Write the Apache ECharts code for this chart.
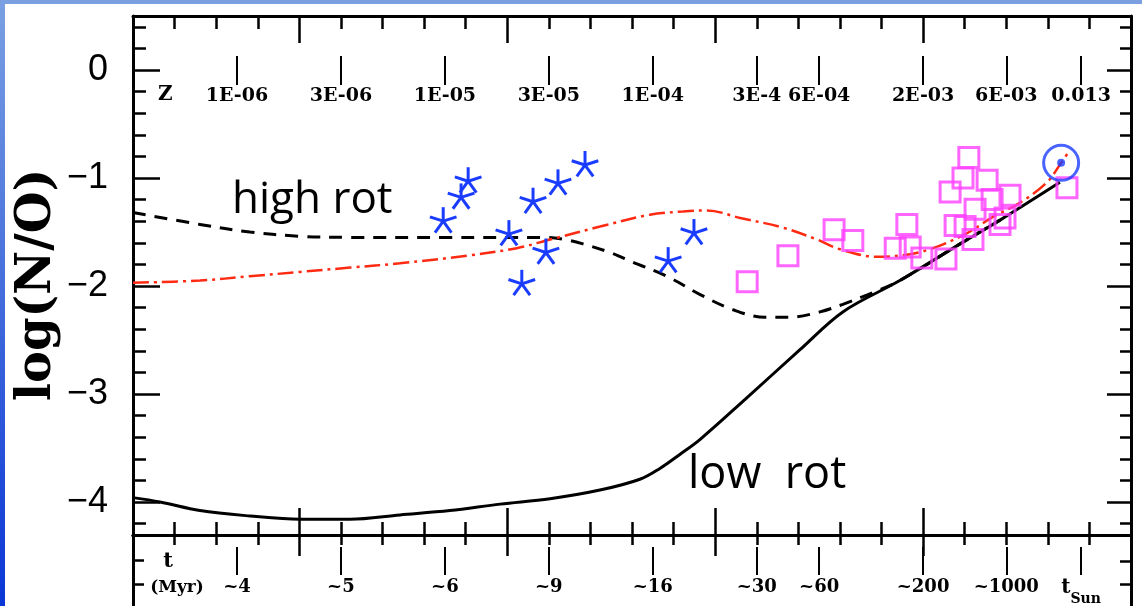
<!DOCTYPE html>
<html>
<head>
<meta charset="utf-8">
<script src="https://cdn.jsdelivr.net/npm/echarts@6/dist/echarts.min.js"></script>
<style>
html,body{margin:0;padding:0;background:#fff;}
#chart{width:1142px;height:606px;}
</style>
</head>
<body>
<div id="chart"></div>
<script>
// ---- data (x in minor-tick units of the abundance axis, y = log(N/O)) ----
const lowRot = [[0,-3.96],[0.65,-4.00],[1.61,-4.08],[2.81,-4.13],[4.02,-4.16],[5.22,-4.16],[6.42,-4.12],[7.62,-4.08],[8.83,-4.02],[10.03,-3.97],[11.23,-3.89],[12.19,-3.79],[12.67,-3.69],[13.15,-3.56],[13.64,-3.42],[14.72,-3.05],[16.04,-2.59],[17.07,-2.24],[18.44,-1.95],[19.89,-1.61],[20.85,-1.39],[22.29,-1.04]];
const highRot = [[0,-1.32],[1.61,-1.43],[2.81,-1.50],[4.02,-1.54],[5.22,-1.55],[7.62,-1.55],[9.91,-1.55],[10.39,-1.57],[10.82,-1.61],[11.47,-1.69],[12.02,-1.78],[12.84,-1.91],[13.64,-2.08],[14.43,-2.22],[15.20,-2.29],[15.80,-2.29],[16.52,-2.24],[17.07,-2.17],[17.80,-2.06],[18.44,-1.95],[19.89,-1.61],[20.85,-1.39]];
const redModel = [[0,-1.97],[1.61,-1.95],[2.81,-1.91],[4.02,-1.87],[5.22,-1.83],[6.42,-1.79],[8.03,-1.72],[9.23,-1.65],[10.03,-1.57],[11.23,-1.45],[12.43,-1.34],[13.23,-1.31],[13.80,-1.30],[14.60,-1.37],[15.63,-1.46],[16.45,-1.57],[17.00,-1.66],[17.89,-1.73],[18.61,-1.71],[19.24,-1.65],[20.06,-1.51],[20.68,-1.36],[21.33,-1.23],[21.98,-1.04],[22.32,-0.86],[22.53,-0.74]];
const stars = [[7.46,-1.40],[7.89,-1.18],[8.06,-1.03],[9.04,-1.52],[9.35,-1.98],[9.62,-1.22],[9.93,-1.69],[10.22,-1.05],[10.87,-0.88],[12.87,-1.77],[13.49,-1.51]];
const squares = [[14.77,-1.96],[15.75,-1.72],[16.86,-1.48],[17.31,-1.58],[18.33,-1.65],[18.61,-1.43],[18.69,-1.64],[18.97,-1.74],[19.55,-1.75],[19.65,-1.13],[19.77,-1.44],[20.01,-1.45],[19.96,-1.00],[20.10,-0.81],[20.54,-1.02],[20.20,-1.57],[20.25,-1.29],[20.66,-1.20],[21.09,-1.16],[20.85,-1.43],[20.97,-1.37],[22.46,-1.09]];
const sun = [[22.32,-0.86]];
const zTickPos = [2.5,5,7.5,10,12.5,15,16.5,19,21,22.8];
const zLabels = ['1E-06','3E-06','1E-05','3E-05','1E-04','3E-4','6E-04','2E-03','6E-03','0.013'];
const tLabels = ['~4','~5','~6','~9','~16','~30','~60','~200','~1000','tSun'];
const xMajor = [4,9,14,19];
const yMajor = [0,-1,-2,-3,-4];

// ---- tick helpers ----
const xMinor = [];
for (let i = 1; i < 24; i++) if (xMajor.indexOf(i) < 0) xMinor.push(i);
const yMinor = [];
for (let i = 2; i >= -21; i--) { if (i % 5 !== 0) yMinor.push(i / 5); }

const XMIN = 0, XMAX = 24, YMIN = -4.306, YMAX = 0.5;
const black = '#000';
const lineSty = {show:true, onZero:false, lineStyle:{color:black, width:3}};
const noLine = {show:false, onZero:false};
const noLabel = {show:false};
const noSplit = {show:false};
function ticks(vals, len, inside, w) {
  return {show:true, inside:inside, length:len, customValues:vals, lineStyle:{color:black, width:w||2.5}};
}
function xAx(grid, pos, extra) {
  return Object.assign({type:'value', gridIndex:grid, position:pos, min:XMIN, max:XMAX,
    axisLine:noLine, axisLabel:noLabel, splitLine:noSplit, axisTick:{show:false}}, extra);
}
function yAx(grid, pos, min, max, extra) {
  return Object.assign({type:'value', gridIndex:grid, position:pos, min:min, max:max,
    axisLine:noLine, axisLabel:noLabel, splitLine:noSplit, axisTick:{show:false}}, extra);
}
function lookup(pos, labels, v) {
  for (let i = 0; i < pos.length; i++) if (Math.abs(pos[i] - v) < 1e-6) return labels[i];
  return '';
}
const zFont = {fontFamily:'DejaVu Serif', fontWeight:'bold', fontSize:19, color:black};
const tFont = {fontFamily:'DejaVu Serif', fontWeight:'bold', fontSize:18, color:black};

const chart = echarts.init(document.getElementById('chart'), null, {renderer:'canvas'});
const option = {
  animation:false,
  backgroundColor:'#ffffff',
  grid:[
    {left:133, right:11, top:16, height:519},
    {left:133, right:11, top:535, height:71}
  ],
  xAxis:[
    xAx(0,'bottom',{axisLine:lineSty, axisTick:ticks(xMinor,13,true)}),
    xAx(0,'bottom',{axisTick:ticks(xMajor,27,true)}),
    xAx(0,'top',{axisLine:lineSty, axisTick:ticks(xMinor,13,true)}),
    xAx(0,'top',{axisTick:ticks(xMajor,27,true)}),
    xAx(0,'top',{offset:-69, axisTick:ticks(zTickPos,29,false,2),
      axisLabel:Object.assign({show:true, inside:true, margin:2, customValues:zTickPos,
        formatter:(v)=>lookup(zTickPos,zLabels,v)}, zFont)}),
    xAx(1,'top',{axisLine:lineSty, axisTick:ticks(xMinor,10,true)}),
    xAx(1,'top',{axisTick:ticks(xMajor,21,true)}),
    xAx(1,'top',{offset:-40, axisTick:ticks(zTickPos,28,false,2),
      axisLabel:Object.assign({show:true, inside:true, margin:3, customValues:zTickPos,
        formatter:(v)=>{const s = lookup(zTickPos,tLabels,v); return s==='tSun' ? '{t|t}{s|Sun}' : s;},
        rich:{t:{fontFamily:'DejaVu Serif', fontWeight:'bold', fontSize:20, lineHeight:28, verticalAlign:'top'},
              s:{fontFamily:'DejaVu Serif', fontWeight:'bold', fontSize:14, lineHeight:28, verticalAlign:'bottom'}}
      }, tFont)})
  ],
  yAxis:[
    yAx(0,'left',YMIN,YMAX,{axisLine:lineSty, axisTick:ticks(yMinor,13,true),
      axisLabel:{show:true, margin:25, customValues:yMajor, fontFamily:'Liberation Sans', fontSize:36, color:black,
        formatter:(v)=> v === 0 ? '0' : '\u2212' + Math.abs(v)}}),
    yAx(0,'left',YMIN,YMAX,{axisTick:ticks(yMajor,27,true)}),
    yAx(0,'right',YMIN,YMAX,{axisLine:lineSty, axisTick:ticks(yMinor,11,true)}),
    yAx(0,'right',YMIN,YMAX,{axisTick:ticks(yMajor,24,true)}),
    yAx(1,'left',0,3,{inverse:true, axisLine:lineSty, axisTick:ticks([1.08,2.08],11,true)}),
    yAx(1,'right',0,3,{inverse:true, axisLine:lineSty, axisTick:ticks([1.1,2.08],11,true)})
  ],
  series:[
    {type:'line', name:'low rot', xAxisIndex:0, yAxisIndex:0, data:lowRot, smooth:0.35, showSymbol:false,
      lineStyle:{color:black, width:3}, z:3},
    {type:'line', name:'high rot', xAxisIndex:0, yAxisIndex:0, data:highRot, smooth:0.35, showSymbol:false,
      lineStyle:{color:black, width:3, type:[13,9]}, z:3},
    {type:'line', name:'model', xAxisIndex:0, yAxisIndex:0, data:redModel, smooth:0.35, showSymbol:false,
      lineStyle:{color:'#ff2a12', width:2.5, type:[16,5,3,5]}, z:4},
    {type:'scatter', name:'squares', xAxisIndex:0, yAxisIndex:0, data:squares, symbol:'rect', symbolSize:20,
      itemStyle:{color:'rgba(0,0,0,0)', borderColor:'#ff40ff', borderWidth:3}, z:5},
    {type:'custom', name:'stars', xAxisIndex:0, yAxisIndex:0, data:stars, z:6,
      renderItem:function(params, api){
        const c = api.coord([api.value(0), api.value(1)]);
        const r = 14, kids = [];
        for (let k = 0; k < 5; k++) {
          const a = -Math.PI/2 + k*2*Math.PI/5;
          kids.push({type:'line', shape:{x1:c[0], y1:c[1], x2:c[0]+r*Math.cos(a), y2:c[1]+r*Math.sin(a)},
            style:{stroke:'#1a3cff', lineWidth:3, lineCap:'butt'}});
        }
        return {type:'group', children:kids};
      }},
    {type:'scatter', name:'sun', xAxisIndex:0, yAxisIndex:0, data:sun, symbol:'circle', symbolSize:35,
      itemStyle:{color:'rgba(0,0,0,0)', borderColor:'#1a3cff', borderWidth:3}, z:7},
    {type:'scatter', name:'sun dot', xAxisIndex:0, yAxisIndex:0, data:sun, symbol:'circle', symbolSize:8,
      itemStyle:{color:'#1a3cff'}, z:7}
  ],
  graphic:[
    {type:'rect', left:0, top:0, shape:{width:1142, height:4}, style:{fill:'#7aa0e2'}, z:100},
    {type:'rect', left:0, top:0, shape:{width:5, height:606},
      style:{fill:new echarts.graphic.LinearGradient(0,0,0,1,[{offset:0,color:'#7aa0e2'},{offset:1,color:'#0a36d6'}])}, z:100},
    {type:'text', x:38, y:285, rotation:Math.PI/2, z:50,
      style:{text:'log(N/O)', font:'bold 48px "DejaVu Serif"', fill:black, align:'center', verticalAlign:'middle'}},
    {type:'text', x:232, y:200, z:50,
      style:{text:'high rot', font:'44px "Open Sans"', fill:black, align:'left', verticalAlign:'middle'}},
    {type:'text', x:688, y:475, z:50,
      style:{text:'low  rot', font:'45px "Open Sans"', fill:black, align:'left', verticalAlign:'middle'}},
    {type:'text', x:158, y:95, z:50,
      style:{text:'Z', font:'bold 20px "DejaVu Serif"', fill:black, align:'left', verticalAlign:'middle'}},
    {type:'text', x:168, y:562, z:50,
      style:{text:'t', font:'bold 21px "DejaVu Serif"', fill:black, align:'center', verticalAlign:'middle'}},
    {type:'text', x:177, y:588, z:50,
      style:{text:'(Myr)', font:'bold 17px "DejaVu Serif"', fill:black, align:'center', verticalAlign:'middle'}}
  ]
};
chart.setOption(option);
</script>
</body>
</html>
